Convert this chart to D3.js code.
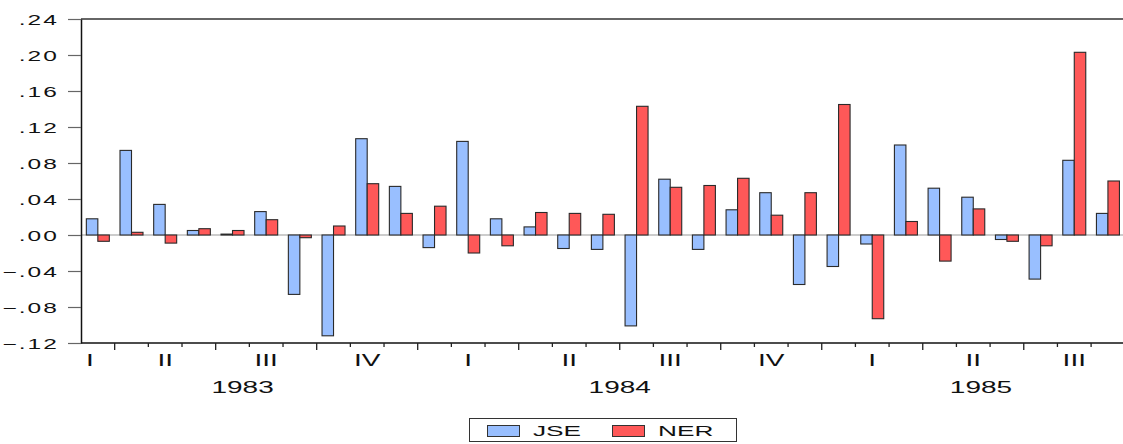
<!DOCTYPE html>
<html>
<head>
<meta charset="utf-8">
<script src="https://cdn.jsdelivr.net/npm/d3@7"></script>
<style>
  html, body { margin: 0; padding: 0; background: #fff; }
  svg { display: block; font-family: 'Liberation Sans', Arial, sans-serif; }
</style>
</head>
<body>
<div id="chart"></div>
<script>
// monthly observations, 1983M03 - 1985M09
const months = [
  '1983M03', '1983M04', '1983M05', '1983M06', '1983M07', '1983M08', '1983M09', '1983M10', '1983M11', '1983M12',
  '1984M01', '1984M02', '1984M03', '1984M04', '1984M05', '1984M06', '1984M07', '1984M08', '1984M09', '1984M10', '1984M11', '1984M12',
  '1985M01', '1985M02', '1985M03', '1985M04', '1985M05', '1985M06', '1985M07', '1985M08', '1985M09'
];
const jse = [0.018, 0.094, 0.034, 0.005, 0.001, 0.026, -0.066, -0.112, 0.107, 0.054,
  -0.014, 0.104, 0.018, 0.009, -0.015, -0.016, -0.101, 0.062, -0.016, 0.028, 0.047, -0.055,
  -0.035, -0.010, 0.100, 0.052, 0.042, -0.005, -0.049, 0.083, 0.024];
const ner = [-0.007, 0.003, -0.009, 0.007, 0.005, 0.017, -0.003, 0.010, 0.057, 0.024,
  0.032, -0.020, -0.012, 0.025, 0.024, 0.023, 0.143, 0.053, 0.055, 0.063, 0.022, 0.047,
  0.145, -0.093, 0.015, -0.029, 0.029, -0.007, -0.012, 0.203, 0.060];
const seriesNames = ['JSE', 'NER'];
const seriesColors = ['#99bfff', '#ff5858'];

const yTicks = [-0.12, -0.08, -0.04, 0, 0.04, 0.08, 0.12, 0.16, 0.20, 0.24];
// quarter labels sit on the middle month of each quarter
const quarterLabels = ['I', 'II', 'III', 'IV', 'I', 'II', 'III', 'IV', 'I', 'II', 'III'];
const quarterMonths = ['1983M03', '1983M05', '1983M08', '1983M11', '1984M02', '1984M05', '1984M08', '1984M11', '1985M02', '1985M05', '1985M08'];
const years = ['1983', '1984', '1985'];
// where each year label sits, in months from the start of the sample
const yearAt = [4.8, 16.0, 26.73];

const W = 1123, H = 444;
const margin = {left: 81, top: 19, bottom: 343};
const step = 33.67;
const stretch = 1.75; // the original text is drawn wide

const svg = d3.select('#chart').append('svg')
  .attr('width', W)
  .attr('height', H);

const x = d3.scaleBand()
  .domain(months)
  .range([margin.left, margin.left + months.length * step])
  .padding(0);
const xMonth = d3.scaleLinear()
  .domain([0, months.length])
  .range(x.range());
const xInner = d3.scaleBand()
  .domain(seriesNames)
  .range([0, x.bandwidth()])
  .paddingInner(0)
  .paddingOuter(0.464);
const y = d3.scaleLinear()
  .domain([-0.12, 0.24])
  .range([margin.bottom, margin.top]);

const fmt = d => d3.format('.2f')(d).replace('0.', '.');

// top frame line
svg.append('line')
  .attr('x1', margin.left).attr('x2', W)
  .attr('y1', y(0.24)).attr('y2', y(0.24))
  .attr('stroke', '#333').attr('stroke-width', 1.5);

// zero line
svg.append('line')
  .attr('x1', margin.left).attr('x2', W)
  .attr('y1', y(0)).attr('y2', y(0))
  .attr('stroke', '#999').attr('stroke-width', 1.2);

// bars
const rows = months.map((m, i) => ({m, vals: [jse[i], ner[i]]}));
const groups = svg.append('g').selectAll('g')
  .data(rows)
  .join('g')
  .attr('transform', d => `translate(${x(d.m)},0)`);
groups.selectAll('rect')
  .data(d => d.vals.map((v, k) => ({v, k})))
  .join('rect')
  .attr('x', d => xInner(seriesNames[d.k]))
  .attr('width', xInner.bandwidth())
  .attr('y', d => y(Math.max(0, d.v)))
  .attr('height', d => Math.abs(y(d.v) - y(0)))
  .attr('fill', d => seriesColors[d.k])
  .attr('stroke', '#2a2a2a')
  .attr('stroke-width', 1.1);

// Y axis
const yAxis = svg.append('g')
  .attr('transform', `translate(${margin.left},0)`)
  .call(d3.axisLeft(y).tickValues(yTicks).tickFormat(fmt).tickSize(13).tickSizeOuter(0));
yAxis.select('.domain').attr('stroke', '#111').attr('stroke-width', 1.5);
yAxis.selectAll('.tick line').attr('stroke', '#666').attr('stroke-width', 1.2);
yAxis.selectAll('.tick text')
  .attr('x', -22 / stretch)
  .attr('dy', '0.36em')
  .attr('transform', `scale(${stretch},1)`)
  .attr('fill', '#111')
  .attr('letter-spacing', 1.2)
  .style('font-size', '14px');

// X axis line and month ticks
svg.append('line')
  .attr('x1', margin.left).attr('x2', W)
  .attr('y1', margin.bottom).attr('y2', margin.bottom)
  .attr('stroke', '#111').attr('stroke-width', 1.5);
svg.append('g').selectAll('line')
  .data(months.slice(1))
  .join('line')
  .attr('x1', d => x(d)).attr('x2', d => x(d))
  .attr('y1', margin.bottom)
  .attr('y2', d => ['01', '04', '07', '10'].includes(d.slice(5)) ? margin.bottom + 7 : margin.bottom + 4)
  .attr('stroke', '#222')
  .attr('stroke-width', 1.3);

// quarter labels
svg.append('g').selectAll('text')
  .data(quarterLabels.map((q, i) => ({q, m: quarterMonths[i], first: i === 0})))
  .join('text')
  .attr('transform', d => `translate(${d.first ? margin.left + 9 : x(d.m) + x.bandwidth() / 2},366) scale(${stretch},1)`)
  .attr('text-anchor', 'middle')
  .attr('fill', '#111')
  .style('font-size', '16px')
  .text(d => d.q);

// year labels
svg.append('g').selectAll('text')
  .data(years)
  .join('text')
  .attr('transform', (d, i) => `translate(${xMonth(yearAt[i])},393) scale(${stretch},1)`)
  .attr('text-anchor', 'middle')
  .attr('fill', '#111')
  .style('font-size', '16px')
  .text(d => d);

// legend
const legend = svg.append('g');
legend.append('rect')
  .attr('x', 469.5).attr('y', 418.5)
  .attr('width', 267).attr('height', 23)
  .attr('fill', '#fff')
  .attr('stroke', '#333');
const items = [{x: 487, tx: 533}, {x: 612, tx: 658}];
seriesNames.forEach((name, k) => {
  legend.append('rect')
    .attr('x', items[k].x + 0.5).attr('y', 425.5)
    .attr('width', 32).attr('height', 11)
    .attr('fill', seriesColors[k])
    .attr('stroke', '#333');
  legend.append('text')
    .attr('transform', `translate(${items[k].tx},436) scale(${stretch},1)`)
    .attr('fill', '#111')
    .style('font-size', '15px')
    .text(name);
});
</script>
</body>
</html>
